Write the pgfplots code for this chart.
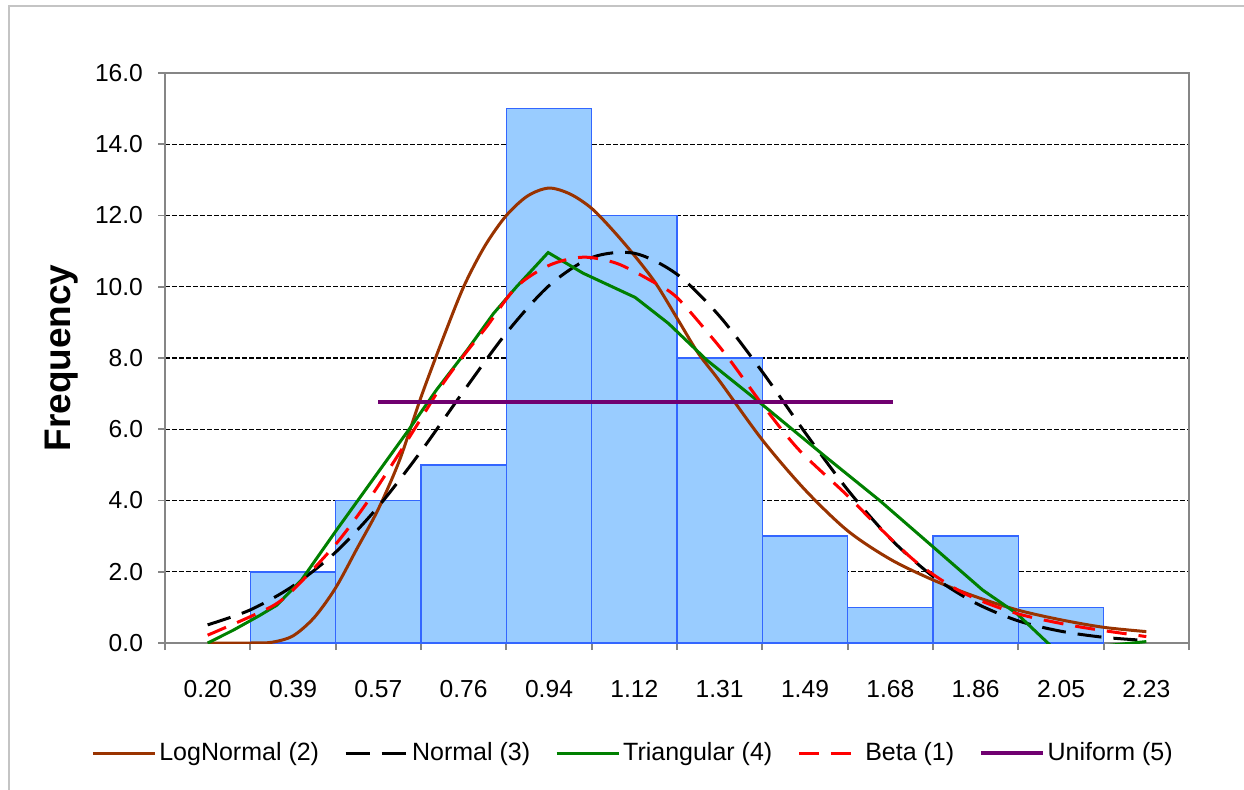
\documentclass[border=0pt]{standalone}
\usepackage{fontspec}
\setmainfont{Liberation Sans}
\usepackage{pgfplots}
\pgfplotsset{compat=1.18}
\definecolor{barfill}{RGB}{153,204,255}
\definecolor{baredge}{RGB}{51,102,255}
\definecolor{axisgray}{RGB}{134,134,134}
\definecolor{framegray}{RGB}{196,196,196}
\definecolor{cbrown}{RGB}{153,51,0}
\definecolor{cgreen}{RGB}{0,128,0}
\definecolor{cpurple}{RGB}{112,0,112}
\begin{document}
\begin{tikzpicture}
\useasboundingbox (0,0) rectangle (622pt,394.5pt);
\draw[framegray, line width=1pt] (4.5pt,-5pt) -- (4.5pt,391.5pt) -- (630pt,391.5pt);
\begin{axis}[
  at={(82.5pt,73pt)}, anchor=south west,
  scale only axis, width=512pt, height=285pt,
  xmin=-0.5, xmax=11.5, ymin=0, ymax=16,
  axis line style={draw=axisgray, line width=0.9pt},
  tick align=outside, tick pos=left,
  xtick={0,...,11},
  xticklabels={0.20,0.39,0.57,0.76,0.94,1.12,1.31,1.49,1.68,1.86,2.05,2.23},
  major x tick style={draw=none},
  minor xtick={-0.5,0.5,...,11.5},
  minor tick length=3.5pt, major tick length=3.5pt,
  tick style={axisgray, line width=0.9pt},
  ytick={0,2,...,16},
  /pgf/number format/assume math mode=true,
  yticklabel style={xshift=-4pt, /pgf/number format/.cd, fixed, fixed zerofill, precision=1},
  xticklabel style={yshift=-11.5pt},
  ymajorgrids,
  major grid style={black, line width=0.6pt, dash pattern=on 2.5pt off 1pt},
  ticklabel style={font=\fontsize{12.3}{14}\selectfont, text=black},
  ylabel={Frequency},
  ylabel style={font=\fontsize{18.5}{22}\selectfont\bfseries, at={(axis description cs:-0.1006,0.5)}, anchor=center},
  legend style={at={(axis description cs:0.4575,-0.193)}, anchor=center, draw=none, fill=none,
    legend columns=5, font=\fontsize{12.5}{15}\selectfont,
    /tikz/every even column/.append style={column sep=11pt},
    nodes={inner sep=1.5pt}},
  legend image code/.code={\draw[#1] (0pt,0pt) -- (31pt,0pt);},
]
% histogram
\addplot[ybar, bar width=1, bar shift=0pt, fill=barfill, draw=baredge, line width=0.8pt, forget plot]
  coordinates {(1,2) (2,4) (3,5) (4,15) (5,12) (6,8) (7,3) (8,1) (9,3) (10,1)};
% LogNormal (2)
\addplot[cbrown, line width=1.5pt, smooth] coordinates {
 (0,0) (0.5,0) (0.75,0.02) (1.0,0.2) (1.25,0.72) (1.5,1.55) (1.75,2.65) (2.0,3.76) (2.25,5.14)
 (2.5,6.9) (2.75,8.5) (3.0,10.0) (3.25,11.15) (3.5,12.0) (3.75,12.55) (4.0,12.77) (4.25,12.6)
 (4.5,12.2) (4.75,11.58) (5.0,10.88) (5.25,10.1) (5.5,9.12) (5.75,8.13) (6.0,7.35) (6.5,5.70)
 (7.0,4.3) (7.5,3.15) (8.0,2.35)
 (8.5,1.77) (9.0,1.3) (9.5,0.92) (10.0,0.65) (10.5,0.44) (11,0.32)};
\addlegendentry{LogNormal (2)}
% Normal (3)
\addplot[black, line width=1.5pt, dash pattern=on 12pt off 6pt, smooth] coordinates {
 (0,0.51) (0.5,0.93) (1,1.60) (1.5,2.55) (2,3.83) (2.5,5.38) (3,7.07) (3.5,8.70) (4,10.03)
 (4.5,10.82) (5,10.94) (5.5,10.35) (6,9.17) (6.5,7.61) (7,5.91) (7.5,4.30) (8,2.93) (8.5,1.87)
 (9,1.12) (9.5,0.62) (10,0.33) (10.5,0.16) (11,0.07)};
\addlegendentry{Normal (3)}
% Triangular (4)
\addplot[cgreen, line width=1.5pt] coordinates {
 (0,0) (0.3,0.36) (0.6,0.76) (0.81,1.06) (1.10,1.77) (1.51,3.17) (2.06,5.0) (2.37,6.03) (2.68,7.10) (3.04,8.22)
 (3.35,9.25) (3.62,10.0) (3.99,10.96) (4.40,10.38) (5.01,9.70) (5.40,8.97) (5.85,7.94) (6.48,6.73)
 (7.24,5.23) (7.87,4.01) (8.50,2.70) (9.08,1.49) (9.48,0.83) (9.89,-0.10) (10.2,-0.45) (10.51,-0.08) (11,0.04)};
\addlegendentry{Triangular (4)}
% Beta (1)
\addplot[red, line width=1.5pt, dash pattern=on 10pt off 6pt, smooth] coordinates {
 (0,0.22) (0.5,0.74) (0.81,1.11) (1.06,1.63) (1.51,2.80) (1.86,3.92) (2.22,5.23) (2.49,6.26)
 (2.76,7.29) (3.02,8.13) (3.27,8.88) (3.62,10.0) (4.01,10.61) (4.40,10.83) (4.79,10.66) (5.18,10.19)
 (5.49,9.72) (5.90,8.60) (6.12,7.94) (6.52,6.63) (6.93,5.42) (7.47,4.20) (7.82,3.36) (8.32,2.24)
 (8.86,1.40) (9.48,0.83) (10.20,0.46) (11,0.18)};
\addlegendentry{Beta (1)}
% Uniform (5)
\addplot[cpurple, line width=1.7pt] coordinates {(2,6.76) (8.03,6.76)};
\addlegendentry{Uniform (5)}
\end{axis}
\end{tikzpicture}
\end{document}
